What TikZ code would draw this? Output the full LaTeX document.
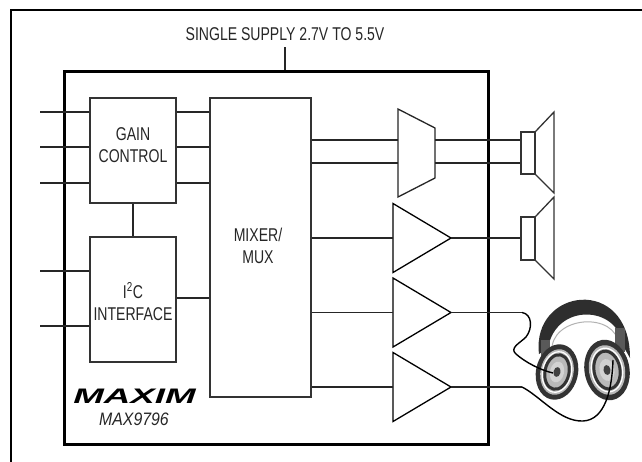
\documentclass[tikz,border=0pt]{standalone}
\usepackage{fontspec}
\setmainfont[FakeStretch=0.76]{Liberation Sans}
\newfontfamily\logofont[FakeStretch=1.75]{Liberation Sans}
\newfontfamily\partfont[FakeStretch=0.88]{Liberation Sans}
\usetikzlibrary{calc}
\begin{document}
\begin{tikzpicture}[x=1pt,y=-1pt,
  wire/.style={line width=1.3pt, draw=black!85},
  blk/.style={draw=black!80, line width=1.3pt, fill=white, inner sep=0pt},
  lbl/.style={align=center, inner sep=0pt, font=\fontsize{18.5}{22}\selectfont, text=black!85},
  ampshape/.style={draw=black, line width=1.3pt, fill=white, line join=miter},
  cable/.style={line width=1.4pt, draw=black}]
\useasboundingbox (0,0) rectangle (642,461);
\clip (0,0) rectangle (642,461);
\fill[white] (0,0) rectangle (642,461);
% outer frame
\draw[line width=2.6pt] (11,480) -- (11,10) -- (660,10);
% supply
\node[lbl, anchor=base] (sup) at (285,40) {SINGLE SUPPLY 2.7V TO 5.5V};
% inner box
\node[draw=black, line width=3pt, minimum width=424pt, minimum height=373pt, inner sep=0pt] (chip) at (276,257.5) {};
\coordinate (supbot) at (285,47);
\draw[wire] (supbot) -- (supbot |- chip.north);
% blocks
\node[blk, minimum width=86pt, minimum height=105pt] (gain) at (133,150.5) {};
\node[blk, minimum width=101pt, minimum height=299pt] (mixer) at (260.5,247.5) {};
\node[blk, minimum width=86pt, minimum height=125pt] (i2c) at (133,299.5) {};
\node[lbl] (gaint) at (133,145) {GAIN\\CONTROL};
\node[lbl] (mixt) at (258,246) {MIXER/\\MUX};
\node[lbl] (i2ct) at (133,301.5) {I\textsuperscript{2}C\\INTERFACE};
% inputs
\foreach \n/\yy in {1/112,2/147,3/183}{
  \coordinate (in\n) at (40,\yy);
  \draw[wire] (in\n) -- (in\n -| gain.west);
  \draw[wire] (in\n -| gain.east) -- (in\n -| mixer.west);
}
\foreach \n/\yy in {4/271,5/326}{
  \coordinate (in\n) at (40,\yy);
  \draw[wire] (in\n) -- (in\n -| i2c.west);
}
\draw[wire] (gain.south) -- (i2c.north);
\coordinate (ic) at (0,298);
\draw[wire] (ic -| i2c.east) -- (ic -| mixer.west);
% mux trapezoid
\draw[ampshape, draw=black!85] (398,109) coordinate (tA) -- (435,128) coordinate (tB) -- (435,178) coordinate (tC) -- (398,197) coordinate (tD) -- cycle;
\coordinate (m1) at (398,140);
\coordinate (m2) at (398,163);
\draw[wire] (m1 -| mixer.east) -- (m1);
\draw[wire] (m2 -| mixer.east) -- (m2);
% speakers
\node[blk, minimum width=14pt, minimum height=42pt] (s1) at (528,153) {};
\node[blk, minimum width=14pt, minimum height=43pt] (s2) at (528,238.5) {};
\draw[line width=1.3pt, draw=black!80] (s1.north east) -- (554,112) -- (554,193) -- (s1.south east);
\draw[line width=1.3pt, draw=black!80] (s2.north east) -- (554,197) -- (554,279) -- (s2.south east);
\coordinate (m1o) at (435,140);
\coordinate (m2o) at (435,163);
\draw[wire] (m1o) -- (m1o -| s1.west);
\draw[wire] (m2o) -- (m2o -| s1.west);
% amplifiers
\foreach \n/\yy in {2/238,3/312.5,4/387}{
  \draw[ampshape] (393,\yy-34.5) -- (451,\yy) coordinate (a\n o) -- (393,\yy+34.5) -- cycle;
  \coordinate (a\n) at (393,\yy);
  \draw[wire] (a\n -| mixer.east) -- (a\n);
}
\draw[wire] (a2o) -- (a2o -| s2.west);
\coordinate (h1) at (522,312.5);
\coordinate (h2) at (522,387);
\draw[wire] (a3o) -- (h1);
\draw[wire] (a4o) -- (h2);
% headphones
\fill[black!82] (539,354) .. controls (531,288) and (630,274) .. (630,358)
  -- (622,344) .. controls (618,306) and (556,302) .. (548,348) -- cycle;
\draw[gray!60, line width=1pt] (552,352) .. controls (549,316) and (617,310) .. (619,346);
\fill[black!65] (615,328) rectangle (625,352);
\fill[black!65] (541,340) rectangle (550,356);
\begin{scope}[rotate around={-12:(557,372)}]
  \fill[black!80] (557,372) ellipse [x radius=21pt, y radius=28pt];
  \fill[gray!55] (557,372) ellipse [x radius=16.5pt, y radius=23pt];
  \draw[black!80, line width=3pt] (557,372) ellipse [x radius=12pt, y radius=17.5pt];
  \fill[gray!35] (557,372) ellipse [x radius=7pt, y radius=10.5pt];
  \draw[white, line width=1.2pt] (557,372) ellipse [x radius=14.5pt, y radius=20.5pt];
  \fill[black!75] (557,372) ellipse [x radius=3.5pt, y radius=5pt];
\end{scope}
\begin{scope}[rotate around={10:(607,370)}]
  \fill[black!80] (607,370) ellipse [x radius=22.5pt, y radius=30.5pt];
  \fill[gray!55] (607,370) ellipse [x radius=18pt, y radius=25pt];
  \draw[black!80, line width=3pt] (607,370) ellipse [x radius=13pt, y radius=19pt];
  \fill[gray!35] (607,370) ellipse [x radius=7.5pt, y radius=11pt];
  \draw[white, line width=1.2pt] (607,370) ellipse [x radius=15.5pt, y radius=22pt];
  \fill[black!75] (607,370) ellipse [x radius=3.5pt, y radius=5pt];
\end{scope}
\coordinate (cupL) at (553,373);
\coordinate (cupR) at (613,360);
\draw[cable] (h1) .. controls (532,314) and (533,328) .. (526,337)
  .. controls (520,343) and (509,348) .. (516,354)
  .. controls (525,362) and (540,370) .. (cupL);
\draw[cable] (h2) .. controls (540,396) and (560,422) .. (583,421)
  .. controls (605,420) and (612,390) .. (cupR);
% logo
\node[anchor=base, inner sep=0pt] (logo) at (134.5,403) {\logofont\fontsize{21}{24}\selectfont\bfseries\itshape MAXIM};
\node[anchor=base, inner sep=0pt, text=black!85] (part) at (134,425) {\partfont\fontsize{18}{22}\selectfont\itshape MAX9796};
\end{tikzpicture}
\end{document}
